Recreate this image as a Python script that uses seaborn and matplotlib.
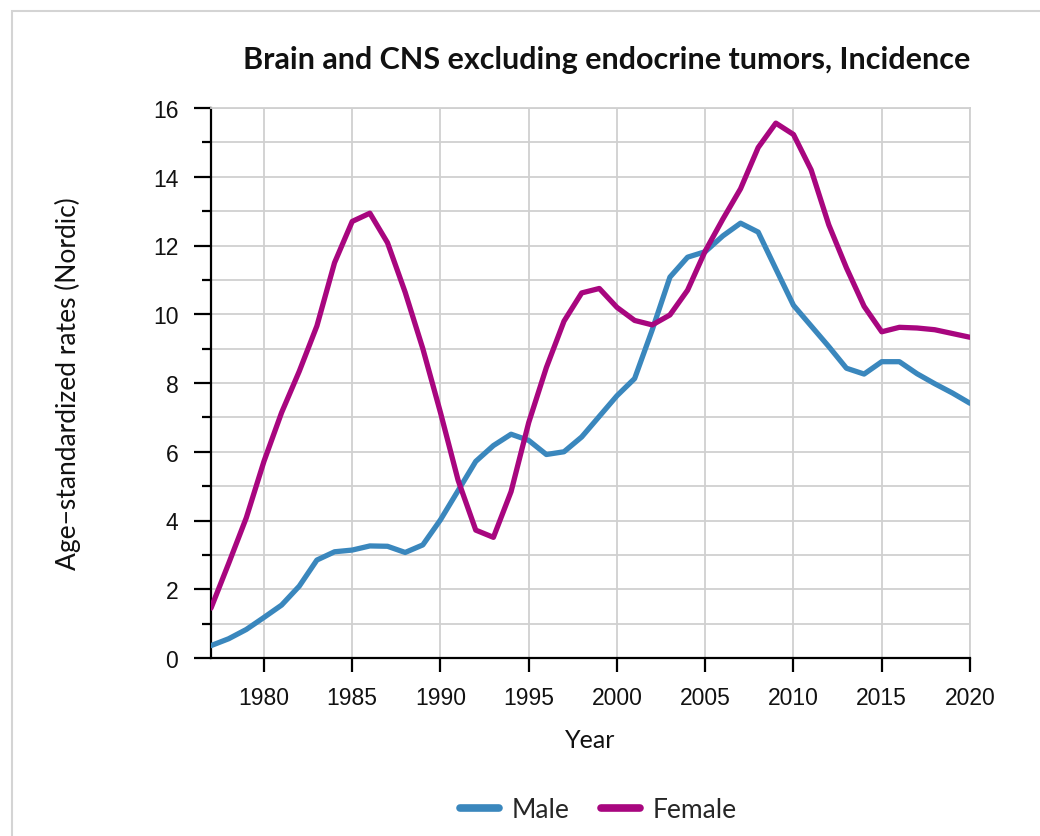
import numpy as np
import pandas as pd
import matplotlib
matplotlib.use('Agg')
import matplotlib.pyplot as plt
import matplotlib.patches as patches
from matplotlib.ticker import MultipleLocator
import seaborn as sns

# Data
years = list(range(1977, 2021))
male = [0.36, 0.56, 0.83, 1.18, 1.54, 2.09, 2.85, 3.09, 3.14, 3.26,
        3.25, 3.07, 3.29, 4.02, 4.87, 5.72, 6.18, 6.51, 6.33, 5.92,
        6.00, 6.43, 7.03, 7.63, 8.13, 9.55, 11.08, 11.66, 11.82, 12.28,
        12.65, 12.39, 11.32, 10.26, 9.66, 9.06, 8.43, 8.26, 8.62, 8.62,
        8.27, 7.98, 7.71, 7.41]
female = [1.45, 2.75, 4.08, 5.72, 7.14, 8.34, 9.66, 11.50, 12.70, 12.94,
          12.08, 10.64, 9.00, 7.14, 5.17, 3.72, 3.51, 4.84, 6.85, 8.45,
          9.80, 10.62, 10.75, 10.20, 9.82, 9.69, 9.98, 10.70, 11.84, 12.77,
          13.65, 14.85, 15.56, 15.23, 14.20, 12.60, 11.35, 10.23, 9.49, 9.62,
          9.60, 9.55, 9.44, 9.33]
series_names = ['Male', 'Female']
colors = ['#3a87bd', '#a8067f']

df = pd.DataFrame({'Year': years * 2,
                   'Rate': male + female,
                   'Sex': ['Male'] * len(years) + ['Female'] * len(years)})

sns.set_style('white')
text_font = ['Lato', 'DejaVu Sans']
tick_font = ['Liberation Sans', 'DejaVu Sans']

fig = plt.figure(figsize=(10.4, 8.37), dpi=100)
ax = fig.add_axes([211 / 1040, 1 - 659 / 837, (970 - 211) / 1040, (659 - 109) / 837])

sns.lineplot(data=df, x='Year', y='Rate', hue='Sex', hue_order=series_names,
             palette=colors, linewidth=3.8, ax=ax, legend=False, zorder=3)

ax.set_xlim(1977, 2020)
ax.set_ylim(0, 16)
ax.xaxis.set_major_locator(MultipleLocator(5))
ax.yaxis.set_major_locator(MultipleLocator(2))
ax.yaxis.set_minor_locator(MultipleLocator(1))
ax.grid(True, which='both', axis='y', color='#d0d0d0', linewidth=1.3, zorder=0)
ax.grid(True, which='major', axis='x', color='#d0d0d0', linewidth=1.3, zorder=0)
ax.set_axisbelow(True)

for side in ['top', 'right']:
    ax.spines[side].set_color('#d0d0d0')
    ax.spines[side].set_linewidth(1.3)
for side in ['left', 'bottom']:
    ax.spines[side].set_color('black')
    ax.spines[side].set_linewidth(1.6)

ax.tick_params(axis='y', which='major', direction='out', length=12.5, width=1.6,
               color='black', pad=11, left=True)
ax.tick_params(axis='y', which='minor', direction='out', length=6.5, width=1.6,
               color='black', left=True)
ax.tick_params(axis='x', which='major', direction='out', length=10, width=1.6,
               color='black', pad=10, bottom=True)
for lab in ax.get_xticklabels() + ax.get_yticklabels():
    lab.set_fontfamily(tick_font)
    lab.set_fontsize(16.5)
    lab.set_color('#111111')

ax.set_xlabel('Year', fontsize=18, family=text_font, color='#111111')
ax.set_ylabel('Age\u2212standardized rates (Nordic)', fontsize=19, family=text_font,
              color='#111111')
ax.xaxis.set_label_coords((590 - 211) / 759, (659 - 741) / 550)
ax.yaxis.set_label_coords((68 - 211) / 759, 0.5)
ax.xaxis.label.set_va('center')
ax.yaxis.label.set_va('center')

fig.text(607 / 1040, 1 - 60 / 837, 'Brain and CNS excluding endocrine tumors, Incidence',
         ha='center', va='center', fontsize=22, fontweight='bold', family=text_font,
         color='#111111')

handles = [plt.Line2D([], [], color=c, linewidth=5.5) for c in colors]
fig.legend(handles, series_names, loc='center', bbox_to_anchor=(598 / 1040, 1 - 811 / 837),
           ncol=2, frameon=False, prop={'family': text_font, 'size': 19},
           handlelength=1.5, columnspacing=1.2, handletextpad=0.45)

# light frame around the chart area
fig.patches.append(patches.Rectangle((12 / 1040, -0.1), 1.2, (837 - 12) / 837 + 0.1,
                                     transform=fig.transFigure, fill=False,
                                     edgecolor='#d4d4d4', linewidth=1.5))

fig.savefig('out.png', dpi=100)
